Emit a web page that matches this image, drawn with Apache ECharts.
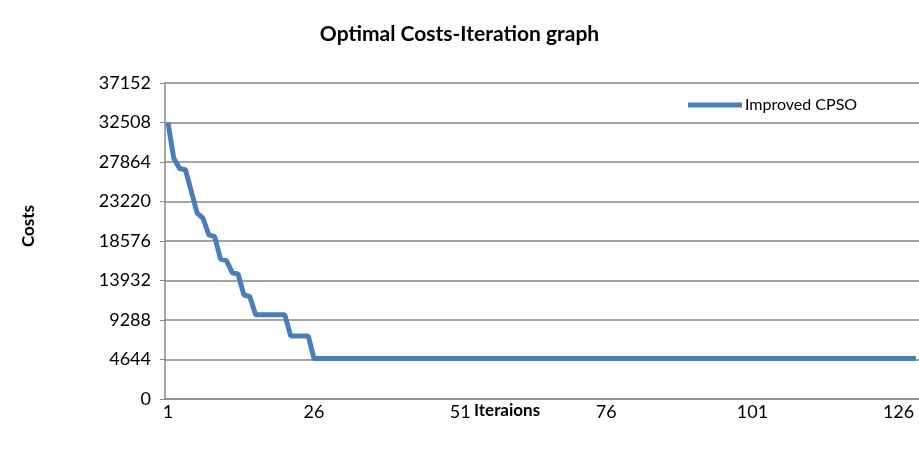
<!DOCTYPE html>
<html>
<head>
<meta charset="utf-8">
<script src="https://cdn.jsdelivr.net/npm/echarts@6/dist/echarts.min.js"></script>
<style>html,body{margin:0;padding:0;background:#fff}#c{width:919px;height:455px}</style>
</head>
<body>
<div id="c"></div>
<script>
const titleText = 'Optimal Costs-Iteration graph';
const seriesName = 'Improved CPSO';
const xName = 'Iteraions';
const yName = 'Costs';
const yMin = 0;
const yMax = 37152;
const yStep = 4644;
const iterationCount = 129;
const iterations = [];
for (let i = 1; i <= iterationCount; i++) iterations.push(String(i));
const earlyCosts = [32508, 28300, 27100, 26950, 24400, 21850, 21250, 19300, 19100, 16450,
  16280, 14850, 14700, 12230, 12050, 9900, 9900, 9900, 9900, 9900,
  9900, 7420, 7420, 7420, 7420];
const finalCost = 4750;
const costs = earlyCosts.slice();
while (costs.length < iterationCount) costs.push(finalCost);

const font = 'Lato, "Liberation Sans", Arial, sans-serif';
const chart = echarts.init(document.getElementById('c'));
chart.setOption({
  animation: false,
  title: {
    text: titleText, left: 'center', top: 19,
    textStyle: { fontFamily: font, fontSize: 21, fontWeight: 'bold', color: '#000' }
  },
  legend: {
    data: [seriesName], left: 683, top: 92,
    itemWidth: 54, itemHeight: 5, itemGap: 4,
    icon: 'rect',
    textStyle: { fontFamily: font, fontSize: 16, color: '#000', padding: [0, 0, 0, -2] }
  },
  grid: { left: 165, right: -1, top: 83, bottom: 56, containLabel: false },
  xAxis: {
    type: 'category', data: iterations, boundaryGap: true,
    axisLine: { lineStyle: { color: '#868686', width: 1.5 } },
    axisTick: { interval: 0, length: 5, lineStyle: { color: '#868686' } },
    axisLabel: { interval: 24, margin: 4, fontFamily: font, fontSize: 18, color: '#000' },
    splitLine: { show: false }
  },
  yAxis: {
    type: 'value', min: yMin, max: yMax, interval: yStep,
    axisLine: { show: true, lineStyle: { color: '#868686', width: 1.5 } },
    axisTick: { show: true, length: 5, lineStyle: { color: '#868686' } },
    axisLabel: { margin: 14, fontFamily: font, fontSize: 18, color: '#000',
      formatter: function (v) { return String(v); } },
    splitLine: { lineStyle: { color: '#868686', width: 1.5 } }
  },
  graphic: [
    { type: 'text', left: 474, top: 402,
      style: { text: xName, font: 'bold 17px ' + font, fill: '#000' } },
    { type: 'text', left: 20, top: 205, rotation: Math.PI / 2,
      style: { text: yName, font: 'bold 17px ' + font, fill: '#000' } }
  ],
  series: [{
    name: seriesName, type: 'line', data: costs,
    showSymbol: false, symbol: 'none',
    lineStyle: { color: '#4a7ebb', width: 5 },
    itemStyle: { color: '#4a7ebb' }
  }]
});
</script>
</body>
</html>
